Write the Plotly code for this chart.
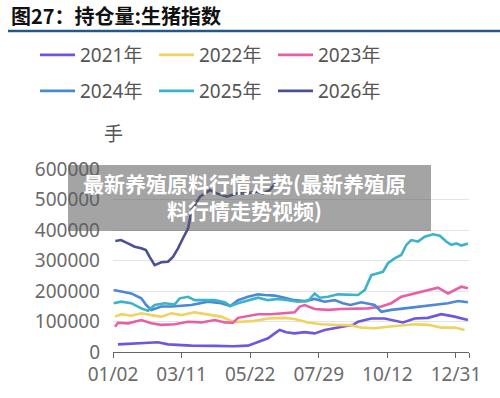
import plotly.graph_objects as go

# ---------------- data (x = trading-day index from 01/02) ----------------
tick_labels = ["01/02", "03/11", "05/22", "07/29", "10/12", "12/31", ""]
tick_pos = [0, 50, 100, 150, 200, 250, 259.5]

x21 = [3.6, 15.8, 32.8, 40.1, 57.1, 74.1, 87.5, 98.4, 105.7, 113, 117.9, 121.5, 126.3, 132.4, 139.7,
       147, 154.3, 161.6, 168.9, 174.9, 178.6, 188.3, 198, 202.8, 211.4, 219.9, 229.6, 239.3, 249, 258.7]
y21 = [25, 28, 32, 25, 21, 20, 19, 21, 32, 45, 61, 72, 65, 61, 65,
       61, 72, 78, 83, 89, 99, 110, 110, 105, 97, 110, 112, 124, 116, 105]

x22 = [1.5, 6, 13.3, 20.6, 27.9, 35.2, 42.5, 49.8, 59.5, 69.2, 78.9, 87.5, 93.5, 103.3, 113,
       125.1, 132.4, 142.1, 151.8, 161.6, 173, 181, 190.7, 200.4, 210.1, 219.9, 229.6, 239.3, 249, 256.3]
y22 = [116, 124, 119, 127, 121, 116, 127, 121, 130, 124, 116, 99, 99, 102, 110,
       112, 108, 97, 91, 89, 88, 80, 78, 83, 86, 91, 89, 80, 80, 72]

x23 = [1.5, 3.6, 11, 20.6, 27.9, 35.2, 45, 54.7, 64.4, 74.1, 81.4, 87.5, 91.1, 98.4, 105.7, 115.4, 125.1,
       132.4, 136.1, 139.7, 147, 156.7, 166.4, 173, 185.9, 195.6, 202.8, 210.1, 219.9, 229.6, 236.9, 244.2,
       249, 253.9, 258.7]
y23 = [83, 96, 94, 105, 94, 89, 91, 99, 97, 105, 97, 96, 112, 119, 124, 124, 127,
       130, 149, 154, 141, 138, 141, 142, 143, 149, 160, 181, 192, 203, 211, 192,
       203, 214, 209]

x24 = [0.5, 6, 13.3, 20.6, 24.2, 27.9, 35.2, 42.5, 57.1, 69.2, 78.9, 85.5, 91.1, 98.4, 105.7, 110.6, 117.9,
       125.1, 132.4, 139.7, 147, 154.3, 161.6, 167.6, 173, 181, 190.7, 195.6, 202.8, 212.6, 224.7, 234.5,
       244.2, 251.5, 258.7]
y24 = [203, 198, 192, 176, 154, 138, 149, 149, 154, 165, 160, 151, 170, 181, 189, 187, 185,
       178, 170, 167, 174, 165, 170, 160, 154, 163, 154, 132, 138, 143, 149, 154,
       160, 167, 163]

x25 = [0.5, 6, 13.3, 20.6, 25.5, 30.4, 37.7, 45, 48.6, 54.7, 59.5, 66.8, 74.1, 81.4, 85.5, 91.1, 98.4,
       105.7, 113, 120.3, 127.6, 134.8, 142.1, 147, 150.7, 156.7, 164, 171.3, 178.6, 183.5, 188.3, 193.1,
       196.8, 200.4, 205.3, 210.1, 213.8, 217.4, 222.3, 227.2, 233.2, 238.2, 242.9, 246.6, 250.2, 253.9, 258.7]
y25 = [160, 165, 160, 143, 135, 154, 160, 156, 176, 181, 170, 170, 170, 163, 151, 160, 170,
       178, 170, 174, 170, 165, 167, 192, 178, 181, 189, 189, 187, 203, 252, 258,
       263, 291, 307, 318, 351, 367, 362, 378, 386, 381, 362, 351, 356, 349, 356]

x26 = [1.7, 5.8, 10.9, 15.8, 20.6, 24, 26.7, 30.4, 35.2, 40.1, 43.7, 47.4, 51, 54.7, 57.4, 63.4, 70.7,
       75.6, 82.9, 90.2, 97.4, 104.7, 109.5, 114.4, 118.1]
y26 = [364, 367, 356, 345, 340, 334, 312, 285, 294, 296, 312, 340, 373, 405, 466, 509, 531,
       520, 509, 520, 520, 526, 520, 531, 553]

series_names = ["2021年", "2022年", "2023年", "2024年", "2025年", "2026年"]
series_x = [x21, x22, x23, x24, x25, x26]
series_y = [y21, y22, y23, y24, y25, y26]
colors = ["#6e56de", "#efd35e", "#ea5fa4", "#4b88d6", "#3bb3c9", "#4b4f96"]

title_text = "图27：持仓量:生猪指数"
unit_text = "手"
watermark = "最新养殖原料行情走势(最新养殖原<br>料行情走势视频)"

# ---------------- figure ----------------
W, H = 500, 398
L, R, T, B = 113, 31, 169, 46
pw, ph = W - L - R, H - T - B


def px(xp):
    return (xp - L) / pw


def py(yp):
    return (H - B - yp) / ph


fig = go.Figure()
for i, (n, xs, ys, c) in enumerate(zip(series_names, series_x, series_y, colors)):
    fig.add_trace(go.Scatter(
        x=xs, y=[v * 1000 for v in ys], name=n, mode="lines",
        line=dict(color=c, width=2.6), legend="legend" if i < 3 else "legend2",
        hoverinfo="skip"))

font_main = "Noto Sans, Noto Sans CJK SC, sans-serif"
leg_common = dict(orientation="h", xref="container", yref="container", yanchor="middle",
                  x=0.07, entrywidth=69, entrywidthmode="pixels", itemwidth=35,
                  font=dict(family=font_main, size=19, color="#555555"),
                  bgcolor="rgba(0,0,0,0)", traceorder="normal")

fig.update_layout(
    width=W, height=H, margin=dict(l=L, r=R, t=T, b=B),
    paper_bgcolor="white", plot_bgcolor="white",
    showlegend=True,
    legend=dict(leg_common, y=1 - 55 / H),
    legend2=dict(leg_common, y=1 - 91 / H),
    xaxis=dict(range=[0, 259.5], tickvals=tick_pos, ticktext=tick_labels,
               showgrid=False, zeroline=False, showline=True, linecolor="#666666", linewidth=1.2,
               ticks="outside", ticklen=5, tickcolor="#666666",
               tickfont=dict(family=font_main, size=19, color="#6b6b6b")),
    yaxis=dict(range=[0, 600000], dtick=100000, tickformat="d",
               showgrid=True, gridcolor="#e2e3ec", gridwidth=1, zeroline=False, showline=False,
               ticklabelstandoff=12,
               tickfont=dict(family=font_main, size=19, color="#6b6b6b")),
)

# title + rule under it
fig.add_annotation(text="<b>" + title_text + "</b>", xref="paper", yref="paper",
                   x=px(9), y=py(15), xanchor="left", yanchor="middle", showarrow=False,
                   font=dict(family="Noto Sans CJK SC", size=20, color="#111111"))
fig.add_shape(type="line", xref="paper", yref="paper", x0=px(8), x1=px(500), y0=py(31), y1=py(31),
              line=dict(color="#24578a", width=2.5))

# unit label
fig.add_annotation(text=unit_text, xref="paper", yref="paper", x=px(113), y=py(134),
                   xanchor="center", yanchor="middle", showarrow=False,
                   font=dict(family=font_main, size=19, color="#555555"))

# watermark overlay
fig.add_shape(type="rect", xref="paper", yref="paper", x0=px(68), x1=px(431), y0=py(165), y1=py(231),
              fillcolor="rgba(90,90,90,0.55)", line=dict(width=0), layer="above")
fig.add_annotation(text="<b>" + watermark + "</b>", xref="paper", yref="paper", x=px(244), y=py(196),
                   xanchor="center", yanchor="middle", showarrow=False, align="center",
                   font=dict(family="Noto Sans CJK SC", size=21, color="white"))

fig.write_html("out.html")
